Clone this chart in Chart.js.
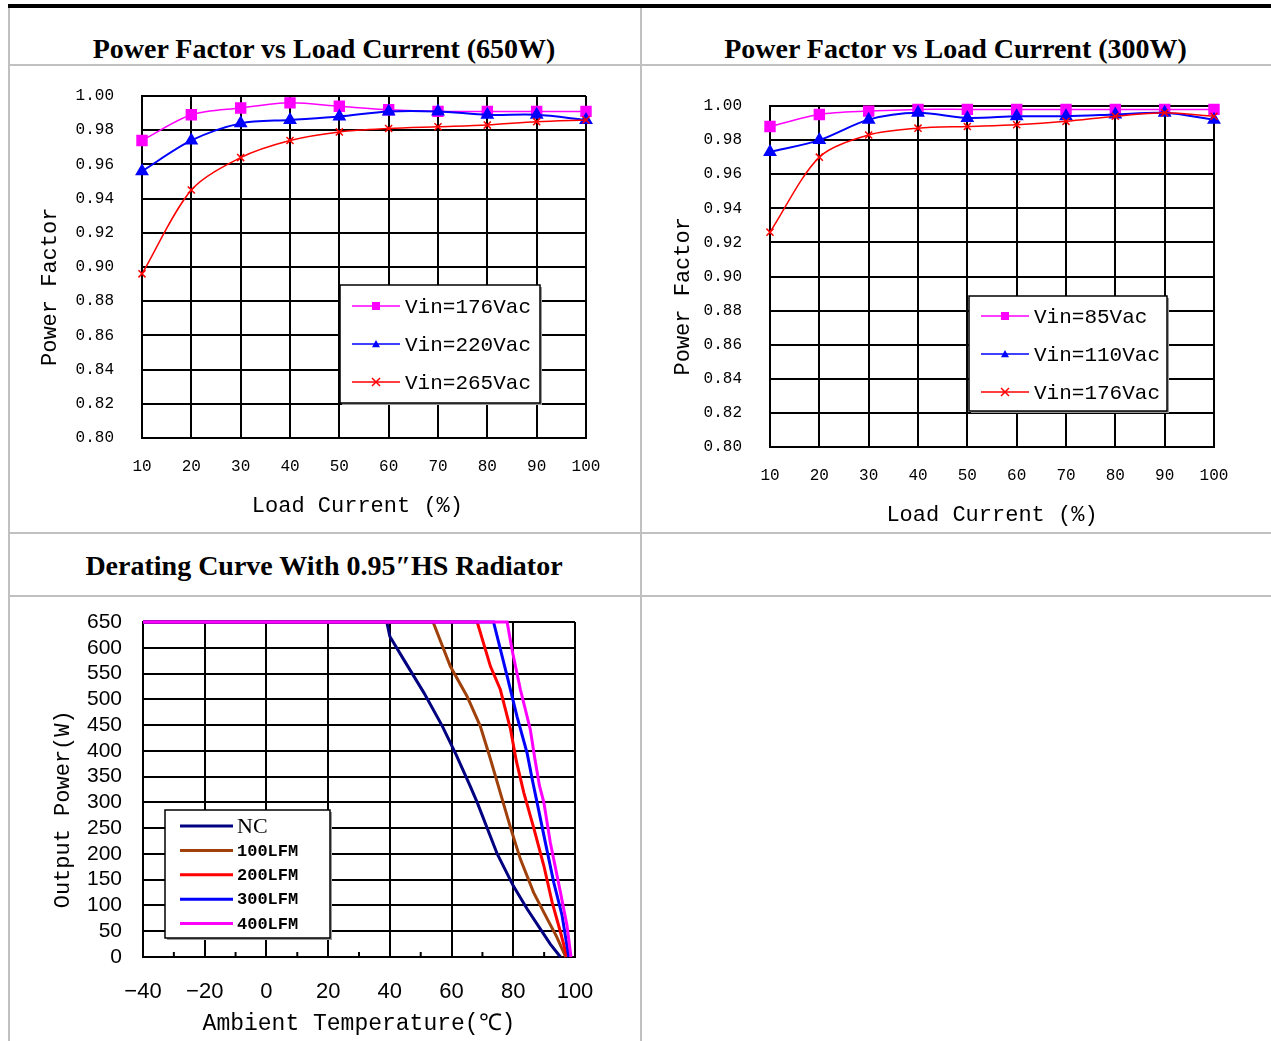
<!DOCTYPE html>
<html lang="en">
<head>
  <meta charset="UTF-8">
  <title>Power factor and derating curves</title>
  <style>
    body { margin: 0; background: #fff; width: 1271px; height: 1041px; overflow: hidden; position: relative; }
    .topbar { position: absolute; left: 8px; top: 4px; width: 1263px; height: 4px; background: #000; }
    .vline { position: absolute; top: 8px; width: 2px; height: 1033px; background: #c0c0c0; }
    .hline { position: absolute; left: 8px; width: 1263px; height: 2px; background: #c0c0c0; }
    .title { position: absolute; text-align: center; font: bold 28px 'Liberation Serif', 'Times New Roman', serif; line-height: 28px; color: #000; white-space: nowrap; }
    canvas { position: absolute; }
  </style>
  <script src="https://cdn.jsdelivr.net/npm/chart.js@4.4.0/dist/chart.umd.min.js"></script>
</head>
<body>
  <div class="topbar"></div>
  <div class="vline" style="left:8px"></div>
  <div class="vline" style="left:640px"></div>
  <div class="hline" style="top:64px"></div>
  <div class="hline" style="top:532px"></div>
  <div class="hline" style="top:595px"></div>

  <div class="title" style="left:8px;width:632px;top:35px">Power Factor vs Load Current (650W)</div>
  <div class="title" style="left:640px;width:631px;top:35px">Power Factor vs Load Current (300W)</div>
  <div class="title" style="left:8px;width:632px;top:552px">Derating Curve With 0.95″HS Radiator</div>

  <canvas id="pf650" width="628" height="464" style="left:10px;top:67px"></canvas>
  <canvas id="pf300" width="628" height="464" style="left:642px;top:67px"></canvas>
  <canvas id="derate" width="628" height="443" style="left:10px;top:598px"></canvas>

  <script>
    // load current (%) for both power factor charts
    const loadPct = [10, 20, 30, 40, 50, 60, 70, 80, 90, 100];

    // 650W model
    const pf650Labels = ['Vin=176Vac', 'Vin=220Vac', 'Vin=265Vac'];
    const pf650_176 = [0.974, 0.989, 0.993, 0.996, 0.994, 0.992, 0.991, 0.991, 0.991, 0.991];
    const pf650_220 = [0.956, 0.974, 0.984, 0.986, 0.988, 0.991, 0.991, 0.989, 0.989, 0.986];
    const pf650_265 = [0.896, 0.945, 0.964, 0.974, 0.979, 0.981, 0.982, 0.983, 0.985, 0.986];

    // 300W model
    const pf300Labels = ['Vin=85Vac', 'Vin=110Vac', 'Vin=176Vac'];
    const pf300_85 = [0.988, 0.995, 0.997, 0.998, 0.998, 0.998, 0.998, 0.998, 0.998, 0.998];
    const pf300_110 = [0.973, 0.980, 0.992, 0.996, 0.993, 0.994, 0.994, 0.995, 0.996, 0.992];
    const pf300_176 = [0.926, 0.970, 0.983, 0.987, 0.988, 0.989, 0.991, 0.994, 0.996, 0.994];

    // derating curves: ambient temp (C) vs output power (W)
    const derateLabels = ['NC', '100LFM', '200LFM', '300LFM', '400LFM'];
    const ncTemp = [-40, 39, 40, 44.5, 51, 57, 61.5, 66, 68.3, 74.8, 80, 84.5, 88.8, 92, 95.3];
    const ncPower = [650, 650, 622, 577, 513, 448, 392, 332, 300, 200, 138, 93, 54, 25, 0];
    const lfm100Temp = [-40, 54, 59.6, 65, 69.3, 72.3, 74.5, 79.1, 82.3, 86.6, 91, 94, 97];
    const lfm100Power = [650, 650, 564, 506, 448, 390, 345, 251, 190, 125, 74, 40, 0];
    const lfm200Temp = [-40, 68.3, 72.6, 75.8, 79.1, 81, 83.4, 86.6, 89.9, 92.6, 95.3, 97.4];
    const lfm200Power = [650, 650, 564, 519, 442, 380, 319, 251, 177, 106, 48, 0];
    const lfm300Temp = [-40, 73.6, 78, 81.2, 84.5, 86.3, 87.7, 90.4, 93.1, 95.8, 98];
    const lfm300Power = [650, 650, 545, 467, 395, 340, 300, 222, 145, 81, 0];
    const lfm400Temp = [-40, 78, 79.6, 82.3, 85.5, 87, 88.5, 89.9, 92, 95.3, 97.4, 98.7];
    const lfm400Power = [650, 650, 596, 519, 442, 384, 332, 300, 222, 125, 61, 0];
    const tempMinor = [-30, -10, 10, 30, 50, 70, 90];

    const pts = (xs, ys) => xs.map((x, i) => ({ x: x, y: ys[i] }));

    function drawMarker(ctx, style, x, y, r, color) {
      ctx.fillStyle = color;
      ctx.strokeStyle = color;
      ctx.beginPath();
      if (style === 'rect') {
        ctx.fillRect(x - r, y - r, 2 * r, 2 * r);
      } else if (style === 'triangle') {
        ctx.moveTo(x, y - r);
        ctx.lineTo(x + r, y + r * 0.8);
        ctx.lineTo(x - r, y + r * 0.8);
        ctx.closePath();
        ctx.fill();
      } else if (style === 'crossRot') {
        ctx.lineWidth = 1.5;
        ctx.moveTo(x - r, y - r); ctx.lineTo(x + r, y + r);
        ctx.moveTo(x + r, y - r); ctx.lineTo(x - r, y + r);
        ctx.stroke();
      }
    }

    // legend box drawn inside the plot
    const boxLegend = {
      id: 'boxLegend',
      afterDraw(chart, args, opts) {
        const ctx = chart.ctx;
        const area = chart.chartArea;
        const bx = area.left + opts.left, by = area.top + opts.top;
        ctx.save();
        ctx.fillStyle = '#9a9a9a';
        ctx.fillRect(bx + 2, by + 2, opts.width, opts.height);
        ctx.fillStyle = '#fff';
        ctx.fillRect(bx, by, opts.width, opts.height);
        ctx.strokeStyle = '#000';
        ctx.lineWidth = 1.5;
        ctx.strokeRect(bx, by, opts.width, opts.height);
        opts.order.forEach((di, row) => {
          const ds = chart.data.datasets[di];
          const y = by + opts.firstRow + row * opts.rowStep;
          ctx.strokeStyle = ds.borderColor;
          ctx.lineWidth = opts.lineWidth;
          ctx.beginPath();
          ctx.moveTo(bx + opts.lineFrom, y);
          ctx.lineTo(bx + opts.lineTo, y);
          ctx.stroke();
          if (opts.markers) {
            drawMarker(ctx, ds.pointStyle, bx + (opts.lineFrom + opts.lineTo) / 2, y, 4, ds.borderColor);
          }
          ctx.fillStyle = '#000';
          ctx.font = opts.fonts[row];
          ctx.textBaseline = 'middle';
          ctx.textAlign = 'left';
          ctx.fillText(ds.label, bx + opts.textX, y + 1);
        });
        ctx.restore();
      }
    };

    const minorTicks = {
      id: 'minorTicks',
      afterDraw(chart) {
        const ctx = chart.ctx;
        const xs = chart.scales.x;
        const bottom = chart.chartArea.bottom;
        ctx.save();
        ctx.strokeStyle = '#000';
        ctx.lineWidth = 2;
        ctx.beginPath();
        tempMinor.forEach(v => {
          const px = xs.getPixelForValue(v);
          ctx.moveTo(px, bottom);
          ctx.lineTo(px, bottom - 5);
        });
        ctx.stroke();
        ctx.restore();
      }
    };

    const monoTick = { family: "'Liberation Mono', 'DejaVu Sans Mono', monospace", size: 16 };
    const monoTitle = { family: "'Liberation Mono', 'DejaVu Sans Mono', monospace", size: 22 };

    // fixed axis box sizes; label padding must not push the plot area
    const fixY = w => s => { s.width = w; s.paddingTop = 0; s.paddingBottom = 0; };
    const fixX = h => s => { s.height = h; };

    function pfOptions(cfg) {
      return {
        responsive: false,
        animation: false,
        devicePixelRatio: 1,
        layout: { padding: { left: 0, top: cfg.padTop, right: cfg.padRight, bottom: 0 } },
        plugins: {
          legend: { display: false },
          tooltip: { enabled: false },
          boxLegend: cfg.legend
        },
        scales: {
          x: {
            grid: { color: '#000', lineWidth: 2, drawTicks: false },
            border: { color: '#000', width: 2 },
            ticks: { font: monoTick, color: '#000', padding: cfg.xTickPad, maxRotation: 0, autoSkip: false },
            title: { display: true, text: cfg.xTitle, font: monoTitle, color: '#000', padding: { top: 0, bottom: cfg.xTitlePad } },
            afterFit: fixX(cfg.xHeight)
          },
          y: {
            min: 0.8,
            max: 1.0,
            grid: { color: '#000', lineWidth: 2, drawTicks: false },
            border: { color: '#000', width: 2 },
            ticks: { stepSize: 0.02, font: monoTick, color: '#000', padding: 28, autoSkip: false, callback: v => v.toFixed(2) },
            title: { display: true, text: 'Power Factor   ', font: monoTitle, color: '#000', padding: { top: cfg.yTitlePad, bottom: 0 } },
            afterFit: fixY(cfg.yWidth)
          }
        }
      };
    }

    function pfDatasets(labels, a, b, c) {
      return [
        { label: labels[0], data: a, borderColor: '#ff00ff', backgroundColor: '#ff00ff', borderWidth: 1.5,
          pointStyle: 'rect', pointRadius: 7, tension: 0.3, clip: false, order: 3 },
        { label: labels[1], data: b, borderColor: '#0000ff', backgroundColor: '#0000ff', borderWidth: 2,
          pointStyle: 'triangle', pointRadius: 6, tension: 0.3, clip: false, order: 2 },
        { label: labels[2], data: c, borderColor: '#ff0000', backgroundColor: '#ff0000', borderWidth: 1.5,
          pointStyle: 'crossRot', pointRadius: 5, pointBorderWidth: 1.5, tension: 0.3, clip: false, order: 1 }
      ];
    }

    const pfLegend = (left, top, width, height, firstRow) => ({
      left: left, top: top, width: width, height: height,
      firstRow: firstRow, rowStep: 38, lineFrom: 12, lineTo: 60, textX: 65,
      lineWidth: 1.5, markers: true, order: [0, 1, 2],
      fonts: ['21px Liberation Mono', '21px Liberation Mono', '21px Liberation Mono']
    });

    new Chart(document.getElementById('pf650'), {
      type: 'line',
      data: { labels: loadPct, datasets: pfDatasets(pf650Labels, pf650_176, pf650_220, pf650_265) },
      options: pfOptions({ padTop: 29, padRight: 52, xHeight: 93, yWidth: 132, xTickPad: 19, xTitlePad: 12, yTitlePad: 27,
        xTitle: 'Load Current (%) ', legend: pfLegend(198, 189, 200, 118, 21) }),
      plugins: [boxLegend]
    });

    new Chart(document.getElementById('pf300'), {
      type: 'line',
      data: { labels: loadPct, datasets: pfDatasets(pf300Labels, pf300_85, pf300_110, pf300_176) },
      options: pfOptions({ padTop: 39, padRight: 56, xHeight: 84, yWidth: 128, xTickPad: 19, xTitlePad: 3, yTitlePad: 28,
        xTitle: 'Load Current (%)', legend: pfLegend(199, 190, 198, 115, 20) }),
      plugins: [boxLegend]
    });

    const derateColors = ['#000080', '#a0400a', '#ff0000', '#0000ff', '#ff00ff'];
    const derateSeries = [
      pts(ncTemp, ncPower), pts(lfm100Temp, lfm100Power), pts(lfm200Temp, lfm200Power),
      pts(lfm300Temp, lfm300Power), pts(lfm400Temp, lfm400Power)
    ];

    new Chart(document.getElementById('derate'), {
      type: 'scatter',
      data: {
        datasets: derateSeries.map((d, i) => ({
          label: derateLabels[i], data: d, showLine: true, borderColor: derateColors[i],
          borderWidth: 3, pointRadius: 0, tension: 0, clip: false, order: 5 - i
        }))
      },
      options: {
        responsive: false,
        animation: false,
        devicePixelRatio: 1,
        layout: { padding: { left: 0, top: 24, right: 63, bottom: 0 } },
        plugins: {
          legend: { display: false },
          tooltip: { enabled: false },
          boxLegend: {
            left: 22, top: 188, width: 165, height: 128,
            firstRow: 16, rowStep: 24.4, lineFrom: 15, lineTo: 68, textX: 72,
            lineWidth: 3, markers: false, order: [0, 1, 2, 3, 4],
            fonts: ["22px 'Liberation Serif'", "bold 17px 'Liberation Mono'", "bold 17px 'Liberation Mono'",
                    "bold 17px 'Liberation Mono'", "bold 17px 'Liberation Mono'"]
          }
        },
        scales: {
          x: {
            type: 'linear',
            min: -40,
            max: 100,
            grid: { color: '#000', lineWidth: 2, drawTicks: false },
            border: { color: '#000', width: 2 },
            ticks: { stepSize: 20, font: { family: "'Liberation Sans', Arial, sans-serif", size: 22 }, color: '#000',
              padding: 22, maxRotation: 0, autoSkip: false, callback: v => (v < 0 ? '\u2212' + Math.abs(v) : String(v)) },
            title: { display: true, text: 'Ambient Temperature(℃)', font: { family: monoTitle.family, size: 23 }, color: '#000', padding: { top: 0, bottom: 3 } },
            afterFit: fixX(84)
          },
          y: {
            min: 0,
            max: 650,
            grid: { color: '#000', lineWidth: 2, drawTicks: false },
            border: { color: '#000', width: 2 },
            ticks: { stepSize: 50, font: { family: "'Liberation Sans', Arial, sans-serif", size: 21 }, color: '#000',
              padding: 21, autoSkip: false },
            title: { display: true, text: 'Output Power(W)   ', font: monoTitle, color: '#000', padding: { top: 40, bottom: 0 } },
            afterFit: fixY(133)
          }
        }
      },
      plugins: [boxLegend, minorTicks]
    });
  </script>
</body>
</html>
